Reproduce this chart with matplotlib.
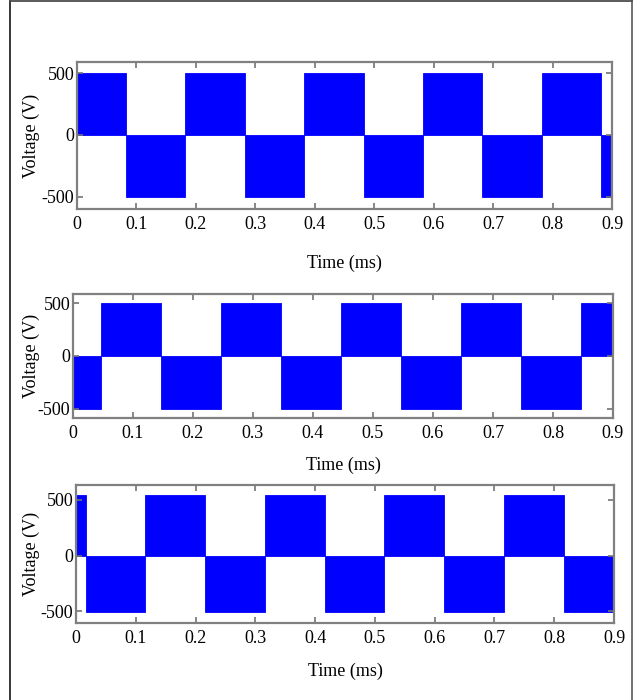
import numpy as np
import matplotlib
matplotlib.use("Agg")
import matplotlib.pyplot as plt
from matplotlib.lines import Line2D

# switching instants (ms) and block voltage levels (V) for each phase
t1_edges = [0, 0.082, 0.182, 0.282, 0.382, 0.482, 0.582, 0.682, 0.782, 0.882, 0.9]
v1 = [500, -500, 500, -500, 500, -500, 500, -500, 500, -500]

t2_edges = [0, 0.047, 0.147, 0.247, 0.347, 0.447, 0.547, 0.647, 0.747, 0.847, 0.9]
v2 = [-500, 505, -500, 505, -500, 505, -500, 505, -500, 505]

t3_edges = [0, 0.016, 0.116, 0.216, 0.316, 0.416, 0.516, 0.616, 0.716, 0.816, 0.9]
v3 = [540, -505, 540, -505, 540, -505, 540, -505, 540, -505]

x_ticks = [0, 0.1, 0.2, 0.3, 0.4, 0.5, 0.6, 0.7, 0.8, 0.9]
x_ticklabels = ["0", "0.1", "0.2", "0.3", "0.4", "0.5", "0.6", "0.7", "0.8", "0.9"]
y_ticks = [-500, 0, 500]
y_ticklabels = ["-500", "0", "500"]

plt.rcParams['font.family'] = ['Liberation Serif', 'DejaVu Serif']
plt.rcParams['font.size'] = 13

fig = plt.figure(figsize=(6.39, 7.0), dpi=100)
W, H = 639.0, 700.0

# axes boxes in pixels: left, right, top, bottom, ylim, label y (px)
panels = [
    (t1_edges, v1, 77, 612, 62, 209, (-600, 590), 263),
    (t2_edges, v2, 73, 613, 294, 418, (-590, 586), 465),
    (t3_edges, v3, 76, 614, 485, 623, (-607, 634), 671),
]

for edges, vals, l, r, t, b, ylim, ylab in panels:
    ax = fig.add_axes([l / W, 1 - b / H, (r - l) / W, (b - t) / H])
    edges = np.array(edges)
    ax.bar(edges[:-1], vals, width=np.diff(edges), align='edge',
           color='#0000ff', edgecolor='#0000ff', linewidth=0.6)
    ax.set_xlim(0, 0.9)
    ax.set_ylim(*ylim)
    ax.set_xticks(x_ticks)
    ax.set_xticklabels(x_ticklabels)
    ax.set_yticks(y_ticks)
    ax.set_yticklabels(y_ticklabels)
    ax.tick_params(direction='in', top=True, right=True, length=4,
                   width=1.2, color='0.45')
    ax.tick_params(axis='x', pad=5)
    ax.tick_params(axis='y', pad=2)
    for sp in ax.spines.values():
        sp.set_color('0.5')
        sp.set_linewidth(1.6)
    ax.set_xlabel("Time (ms)")
    ax.xaxis.label.set_va('center')
    ax.xaxis.set_label_coords(0.5, (b - ylab) / (b - t))
    ax.set_ylabel("Voltage (V)")
    ax.yaxis.label.set_va('center')
    ax.yaxis.set_label_coords((31 - l) / (r - l), 0.5)

# outer frame of the figure
fig.add_artist(Line2D([10 / W, 10 / W], [0, 1 - 1 / H], color='0.15', lw=1.3))
fig.add_artist(Line2D([632 / W, 632 / W], [0, 1 - 1 / H], color='0.4', lw=1.3))
fig.add_artist(Line2D([10 / W, 632 / W], [1 - 1 / H, 1 - 1 / H], color='0.3', lw=1.3))

fig.savefig("out.png", dpi=100)
